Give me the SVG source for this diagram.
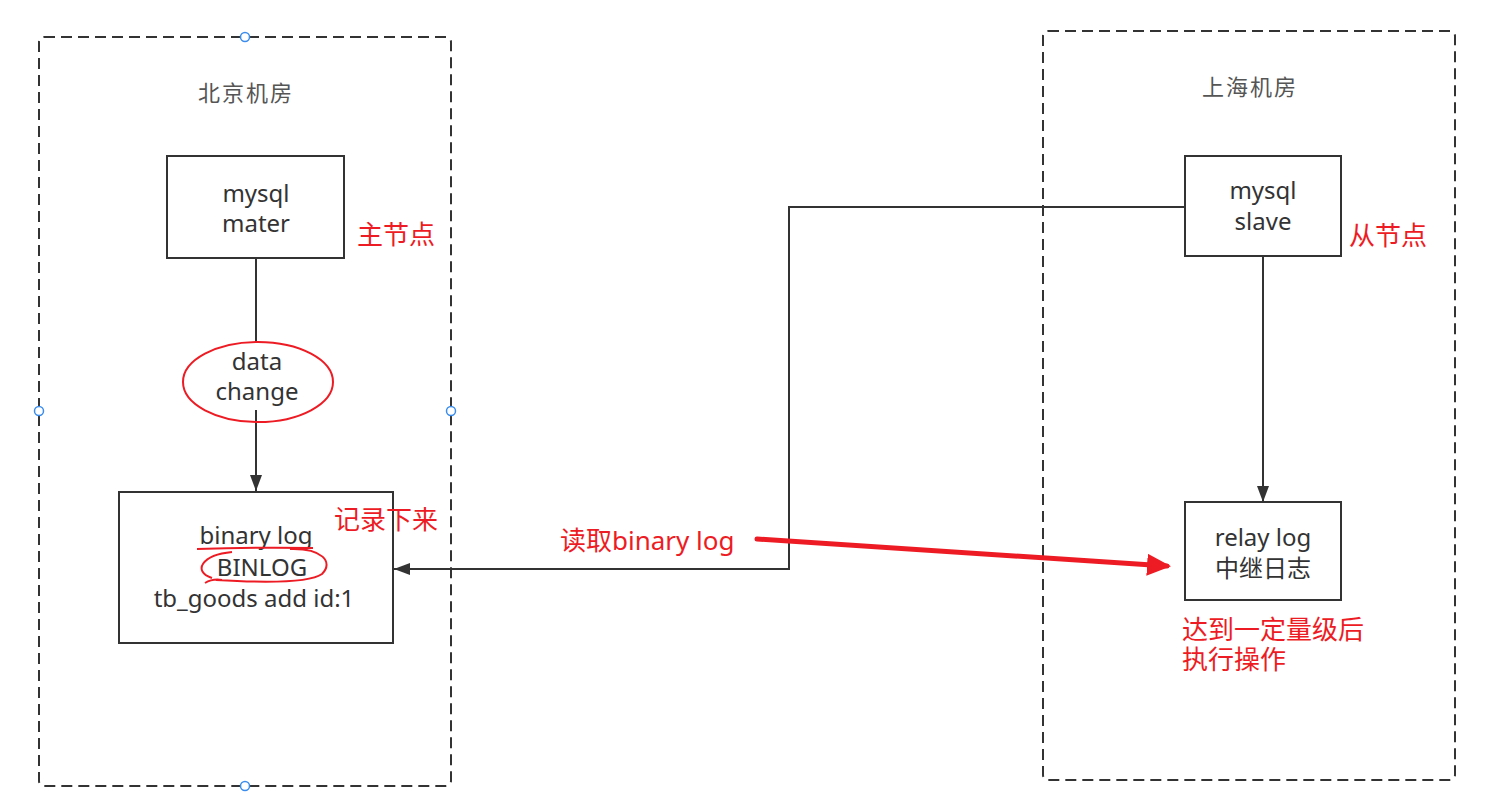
<svg xmlns="http://www.w3.org/2000/svg" width="1487" height="806" viewBox="0 0 1487 806">
<defs>
<style>
.zone{fill:none;stroke:#333;stroke-width:2;stroke-dasharray:11 6}
.box{fill:#fff;stroke:#333;stroke-width:2}
.t{font-family:"Noto Sans","Noto Sans CJK SC",sans-serif;font-size:24px;fill:#333;text-anchor:middle}
.title{font-family:"Noto Sans CJK SC","Noto Sans",sans-serif;font-size:22px;fill:#555;text-anchor:middle;letter-spacing:2px}
.red{font-family:"Noto Sans","Noto Sans CJK SC",sans-serif;font-size:26px;fill:#ed1c24}
.conn{fill:none;stroke:#333;stroke-width:2}
.handle{fill:#fff;stroke:#3b8ded;stroke-width:1.5}
.mark{fill:none;stroke:#ed1c24;stroke-width:2}
</style>
<marker id="ah" markerUnits="userSpaceOnUse" markerWidth="16" markerHeight="12" refX="16" refY="6" orient="auto">
<path d="M0,0 L16,6 L0,12 z" fill="#333"/>
</marker>
<marker id="rah" markerUnits="userSpaceOnUse" markerWidth="24" markerHeight="22" refX="20" refY="11" orient="auto">
<path d="M0,0 L24,11 L0,22 z" fill="#ed1c24"/>
</marker>
</defs>

<g id="zone-beijing">
<rect class="zone" x="39" y="37" width="412" height="749" rx="5"/>
<text class="title" x="246" y="101">北京机房</text>
<circle class="handle" cx="245" cy="37" r="4.5"/>
<circle class="handle" cx="245" cy="786" r="4.5"/>
<circle class="handle" cx="39" cy="411" r="4.5"/>
<circle class="handle" cx="451" cy="411" r="4.5"/>
</g>

<g id="zone-shanghai">
<rect class="zone" x="1043" y="31" width="412" height="749" rx="5"/>
<text class="title" x="1250" y="95">上海机房</text>
</g>

<g id="connectors">
<line class="conn" x1="256" y1="258" x2="256" y2="343"/>
<line class="conn" x1="256" y1="410" x2="256" y2="491" marker-end="url(#ah)"/>
<polyline class="conn" points="1185,207 789,207 789,569 394,569" marker-end="url(#ah)"/>
<line class="conn" x1="1263" y1="256" x2="1263" y2="502" marker-end="url(#ah)"/>
</g>

<g id="node-master">
<rect class="box" x="167" y="156" width="177" height="102"/>
<text class="t" x="256" y="202">mysql</text>
<text class="t" x="256" y="232">mater</text>
</g>

<g id="label-datachange">
<text class="t" x="257" y="370">data</text>
<text class="t" x="257" y="400">change</text>
<ellipse cx="258" cy="382" rx="75" ry="40" fill="none" stroke="#ed1c24" stroke-width="2"/>
</g>

<g id="node-binlog">
<rect class="box" x="119" y="492" width="274" height="151"/>
<text class="t" x="256" y="544">binary log</text>
<text class="t" x="262" y="576">BINLOG</text>
<text class="t" x="254" y="607">tb_goods add id:1</text>
<path class="mark" d="M197,549 Q255,547 313,548"/>
<path class="mark" d="M290,549 C322,548 334,562 322,574 C308,584 250,582 216,580 M232,552 C202,555 192,571 212,578 M205,583 C210,580 216,579 222,580"/>
</g>

<g id="node-slave">
<rect class="box" x="1185" y="156" width="156" height="100"/>
<text class="t" x="1263" y="199">mysql</text>
<text class="t" x="1263" y="230">slave</text>
</g>

<g id="node-relay">
<rect class="box" x="1185" y="502" width="156" height="98"/>
<text class="t" x="1263" y="546">relay log</text>
<text class="t" x="1263" y="577">中继日志</text>
</g>

<g id="annotations">
<text class="red" x="357" y="244">主节点</text>
<text class="red" x="1349" y="245">从节点</text>
<text class="red" x="334" y="529">记录下来</text>
<text class="red" x="560" y="550">读取binary log</text>
<text class="red" x="1182" y="639">达到一定量级后<tspan x="1182" dy="30">执行操作</tspan></text>
<line x1="757" y1="539" x2="1167" y2="566" stroke="#ed1c24" stroke-width="5" stroke-linecap="round" marker-end="url(#rah)"/>
</g>
</svg>
